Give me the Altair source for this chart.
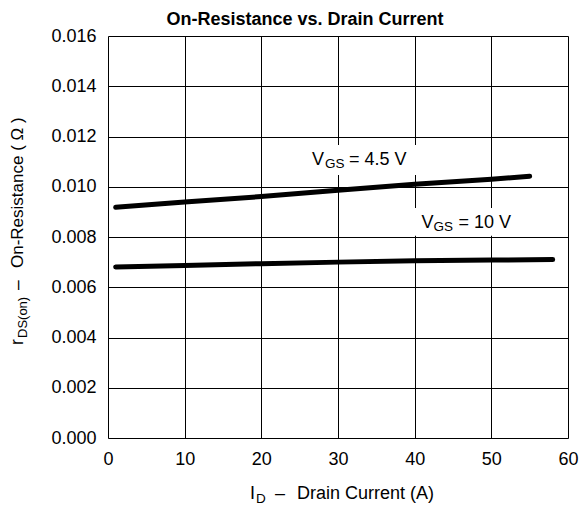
import altair as alt
import pandas as pd

FONT = "Liberation Sans"

# Data
id_vgs45 = [1, 10, 20, 30, 40, 50, 55]
r_vgs45 = [0.00918, 0.00939, 0.00961, 0.00986, 0.01010, 0.01030, 0.01042]
id_vgs10 = [1, 10, 20, 30, 40, 50, 58]
r_vgs10 = [0.00681, 0.00687, 0.00694, 0.00700, 0.00705, 0.00708, 0.00710]
x_ticks = [0, 10, 20, 30, 40, 50, 60]
y_ticks = [0.0, 0.002, 0.004, 0.006, 0.008, 0.010, 0.012, 0.014, 0.016]

df = pd.concat([
    pd.DataFrame({"id": id_vgs45, "r": r_vgs45, "s": "4.5"}),
    pd.DataFrame({"id": id_vgs10, "r": r_vgs10, "s": "10"}),
])

xs = alt.Scale(domain=[0, 60], nice=False, zero=False)
ys = alt.Scale(domain=[0, 0.016], nice=False, zero=False)

x_axis = alt.Axis(values=x_ticks, title=None, grid=True, ticks=False, domain=False,
                  labelFontSize=18, labelFont=FONT, labelColor="black", labelPadding=12,
                  labelFlush=False, labelOverlap=False, gridColor="black", gridOpacity=1, gridWidth=1)
y_axis = alt.Axis(values=y_ticks, title=None, grid=True, ticks=False, domain=False, format=".3f",
                  labelFontSize=18, labelFont=FONT, labelColor="black", labelPadding=12,
                  labelOverlap=False, gridColor="black", gridOpacity=1, gridWidth=1)

lines = alt.Chart(df).mark_line(color="black", strokeWidth=5, strokeCap="round").encode(
    x=alt.X("id:Q", scale=xs, axis=x_axis),
    y=alt.Y("r:Q", scale=ys, axis=y_axis),
    detail="s:N",
)


def blank(x1, x2, y1, y2):
    return alt.Chart(alt.Data(values=[{}])).mark_rect(color="white").encode(
        x=alt.datum(x1), x2=alt.datum(x2), y=alt.datum(y1), y2=alt.datum(y2))


def dlabel(s, x, y, dx=0, dy=0, size=18):
    return alt.Chart(alt.Data(values=[{}])).mark_text(
        text=s, fontSize=size, font=FONT, align="left", baseline="alphabetic",
        dx=dx, dy=dy, color="black").encode(x=alt.datum(x), y=alt.datum(y))


def txt(s, x, y, size=18, angle=0, align="left", weight="normal"):
    return alt.Chart(alt.Data(values=[{}])).mark_text(
        text=s, fontSize=size, font=FONT, angle=angle, align=align,
        baseline="alphabetic", fontWeight=weight, color="black").encode(
        x=alt.value(x), y=alt.value(y))


layers = [
    blank(25.4, 40.8, 0.01166, 0.01047),
    blank(39.6, 53.6, 0.00915, 0.00805),
    lines,
    # curve labels
    dlabel("V", 26.6, 0.01087), dlabel("GS", 26.6, 0.01087, dx=13, dy=3, size=13.5),
    dlabel("= 4.5 V", 26.6, 0.01087, dx=37),
    dlabel("V", 40.9, 0.00836), dlabel("GS", 40.9, 0.00836, dx=12, dy=3, size=13.5),
    dlabel("= 10 V", 40.9, 0.00836, dx=37),
    # title
    txt("On-Resistance vs. Drain Current", 197, -11, size=18, align="center", weight="bold"),
    # x title
    txt("I", 142, 463), txt("D", 148, 467, size=13.5), txt("–", 167, 463),
    txt("Drain Current (A)", 189, 463),
    # y title
    txt("r", -85, 309, angle=270, size=17.5), txt("DS(on)", -81, 302, size=13, angle=270),
    txt("–", -85, 254, angle=270, size=17.5), txt("On-Resistance ( Ω )", -85, 232, angle=270, size=17),
]

chart = alt.layer(*layers).properties(
    width=460, height=402,
    autosize=alt.AutoSizeParams(type="none"),
    padding={"left": 100, "top": 28, "right": 11, "bottom": 81},
).configure_view(stroke="black", strokeWidth=1).configure(background="white")

chart.save("out.html", embed_options={"renderer": "svg", "actions": False})
